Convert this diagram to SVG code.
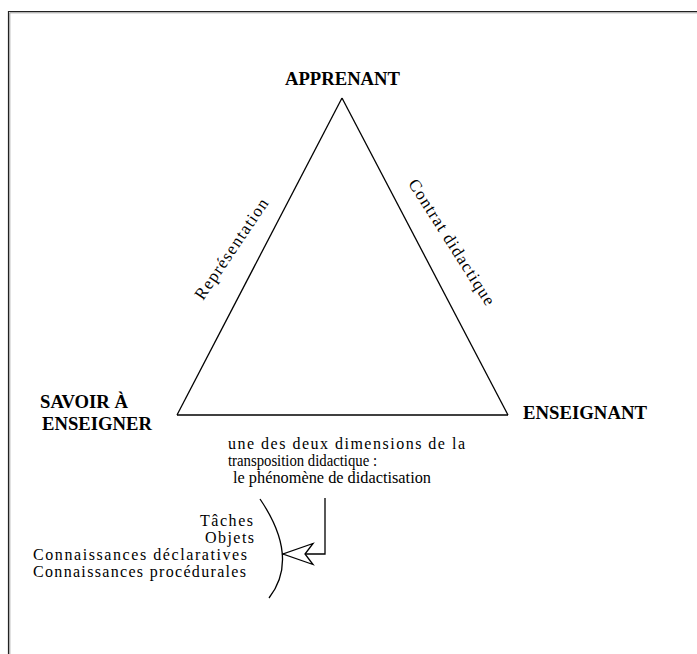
<svg xmlns="http://www.w3.org/2000/svg" width="697" height="654" viewBox="0 0 697 654">
  <style>
    .cap { font-family: "Liberation Serif", "Times New Roman", serif; font-size: 18px; font-weight: bold; fill: #000; }
    .txt { font-family: "Liberation Serif", "Times New Roman", serif; font-size: 16px; fill: #000; }
    .rot { font-family: "Liberation Serif", "Times New Roman", serif; font-size: 17px; fill: #000; }
    .edge { fill: none; stroke: #000; stroke-width: 1.3; }
    .frame-dark { fill: none; stroke: #222; stroke-width: 1.2; }
    .frame-light { fill: none; stroke: #999; stroke-width: 1; }
  </style>
  <defs>
    <marker id="openArrow" markerUnits="userSpaceOnUse" markerWidth="34" markerHeight="24" refX="30" refY="10.5" orient="auto" overflow="visible">
      <path d="M0,0 L30,10.5 L0,21 L8,10.5 Z" fill="#fff" stroke="#000" stroke-width="1.3" stroke-linejoin="miter"/>
    </marker>
  </defs>
  <rect width="697" height="654" fill="#fff"/>
  <g id="frame">
    <path class="frame-dark" d="M8.5,654 V11.5 H697"/>
    <path class="frame-light" d="M9.8,654 V12.8 H697"/>
  </g>

  <g id="connectors">
    <path class="edge" d="M342,98 L177,415"/>
    <path class="edge" d="M342,98 L508,415"/>
    <path class="edge" d="M177,415 L508,415" stroke-width="2"/>
    <path class="edge" d="M325,498 V554 H283" marker-end="url(#openArrow)"/>
    <text class="rot" transform="translate(236,252) rotate(-56)" text-anchor="middle" textLength="118" lengthAdjust="spacing">Représentation</text>
    <text class="rot" transform="translate(447,245) rotate(57.5)" text-anchor="middle" textLength="146" lengthAdjust="spacing">Contrat didactique</text>
  </g>

  <g id="apprenant">
    <text class="cap" x="285" y="85" textLength="115" lengthAdjust="spacingAndGlyphs">APPRENANT</text>
  </g>
  <g id="savoir">
    <text class="cap" x="40" y="408" textLength="88" lengthAdjust="spacingAndGlyphs">SAVOIR À</text>
    <text class="cap" x="42" y="430" textLength="110" lengthAdjust="spacingAndGlyphs">ENSEIGNER</text>
  </g>
  <g id="enseignant">
    <text class="cap" x="523" y="419" textLength="124" lengthAdjust="spacingAndGlyphs">ENSEIGNANT</text>
  </g>
  <g id="transposition">
    <text class="txt" x="228" y="449" textLength="237" lengthAdjust="spacing">une des deux dimensions de la</text>
    <text class="txt" x="228" y="466" textLength="149" lengthAdjust="spacingAndGlyphs">transposition didactique :</text>
    <text class="txt" x="233" y="483" textLength="198" lengthAdjust="spacingAndGlyphs">le phénomène de didactisation</text>
  </g>
  <g id="contenus">
    <path class="edge" d="M260,499 Q300,558 269,598" stroke-width="1.2"/>
    <text class="txt" x="200" y="526" textLength="53" lengthAdjust="spacing">Tâches</text>
    <text class="txt" x="205" y="543" textLength="49" lengthAdjust="spacing">Objets</text>
    <text class="txt" x="33" y="560" textLength="214" lengthAdjust="spacing">Connaissances déclaratives</text>
    <text class="txt" x="33" y="577" textLength="213" lengthAdjust="spacing">Connaissances procédurales</text>
  </g>
</svg>
